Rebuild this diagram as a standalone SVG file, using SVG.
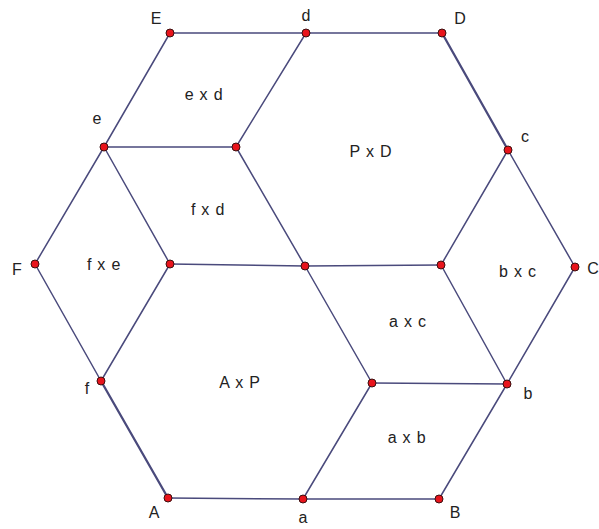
<svg xmlns="http://www.w3.org/2000/svg" width="599" height="529" viewBox="0 0 599 529">
<style>
.e{stroke:#4a4a7c;stroke-width:1.5;fill:none;stroke-linecap:round}
.p{fill:#e8141c;stroke:#3a1010;stroke-width:1}
.t{font-family:"Liberation Sans",Arial,sans-serif;font-size:16px;fill:#222;text-anchor:middle}
.r{font-family:"Liberation Sans",Arial,sans-serif;font-size:16px;fill:#222;text-anchor:middle;letter-spacing:0.8px}
</style>
<rect width="599" height="529" fill="#fff"/>
<g id="connectors">
<line class="e" x1="170" y1="33" x2="306" y2="33"/>
<line class="e" x1="306" y1="33" x2="442" y2="33"/>
<line class="e" x1="442" y1="33" x2="508" y2="150" style="stroke-width:2.3"/>
<line class="e" x1="508" y1="150" x2="575" y2="267"/>
<line class="e" x1="575" y1="267" x2="507" y2="384"/>
<line class="e" x1="507" y1="384" x2="439" y2="499"/>
<line class="e" x1="439" y1="499" x2="303" y2="499"/>
<line class="e" x1="303" y1="499" x2="168" y2="498"/>
<line class="e" x1="168" y1="498" x2="101" y2="381" style="stroke-width:2.3"/>
<line class="e" x1="101" y1="381" x2="35" y2="264"/>
<line class="e" x1="35" y1="264" x2="104" y2="147"/>
<line class="e" x1="104" y1="147" x2="170" y2="33"/>
<line class="e" x1="104" y1="147" x2="236" y2="147"/>
<line class="e" x1="236" y1="147" x2="306" y2="33"/>
<line class="e" x1="104" y1="147" x2="170" y2="264"/>
<line class="e" x1="236" y1="147" x2="305" y2="266"/>
<line class="e" x1="170" y1="264" x2="101" y2="381"/>
<line class="e" x1="170" y1="264" x2="305" y2="266"/>
<line class="e" x1="305" y1="266" x2="441" y2="265"/>
<line class="e" x1="441" y1="265" x2="508" y2="150"/>
<line class="e" x1="441" y1="265" x2="507" y2="384"/>
<line class="e" x1="305" y1="266" x2="372" y2="383"/>
<line class="e" x1="372" y1="383" x2="507" y2="384"/>
<line class="e" x1="372" y1="383" x2="303" y2="499"/>
</g>
<g id="node-E"><circle class="p" cx="170" cy="33" r="4"/><text class="t" x="156" y="24">E</text></g>
<g id="node-d"><circle class="p" cx="306" cy="33" r="4"/><text class="t" x="306" y="21">d</text></g>
<g id="node-D"><circle class="p" cx="442" cy="33" r="4"/><text class="t" x="460" y="24">D</text></g>
<g id="node-e"><circle class="p" cx="104" cy="147" r="4"/><text class="t" x="97" y="124">e</text></g>
<g id="node-ed"><circle class="p" cx="236" cy="147" r="4"/></g>
<g id="node-c"><circle class="p" cx="508" cy="150" r="4"/><text class="t" x="525" y="142">c</text></g>
<g id="node-F"><circle class="p" cx="35" cy="264" r="4"/><text class="t" x="17" y="275">F</text></g>
<g id="node-fe"><circle class="p" cx="170" cy="264" r="4"/></g>
<g id="node-P"><circle class="p" cx="305" cy="266" r="4"/></g>
<g id="node-bc"><circle class="p" cx="441" cy="265" r="4"/></g>
<g id="node-C"><circle class="p" cx="575" cy="267" r="4"/><text class="t" x="593" y="274">C</text></g>
<g id="node-f"><circle class="p" cx="101" cy="381" r="4"/><text class="t" x="87" y="394">f</text></g>
<g id="node-ab"><circle class="p" cx="372" cy="383" r="4"/></g>
<g id="node-b"><circle class="p" cx="507" cy="384" r="4"/><text class="t" x="528" y="399">b</text></g>
<g id="node-A"><circle class="p" cx="168" cy="498" r="4"/><text class="t" x="154" y="518">A</text></g>
<g id="node-a"><circle class="p" cx="303" cy="499" r="4"/><text class="t" x="303" y="523">a</text></g>
<g id="node-B"><circle class="p" cx="439" cy="499" r="4"/><text class="t" x="455" y="518">B</text></g>
<g id="regions">
<text class="r" x="204" y="100">e x d</text>
<text class="r" x="371" y="157">P x D</text>
<text class="r" x="208" y="215">f x d</text>
<text class="r" x="104" y="270">f x e</text>
<text class="r" x="518" y="277">b x c</text>
<text class="r" x="408" y="327">a x c</text>
<text class="r" x="240" y="388">A x P</text>
<text class="r" x="407" y="443">a x b</text>
</g>
</svg>
